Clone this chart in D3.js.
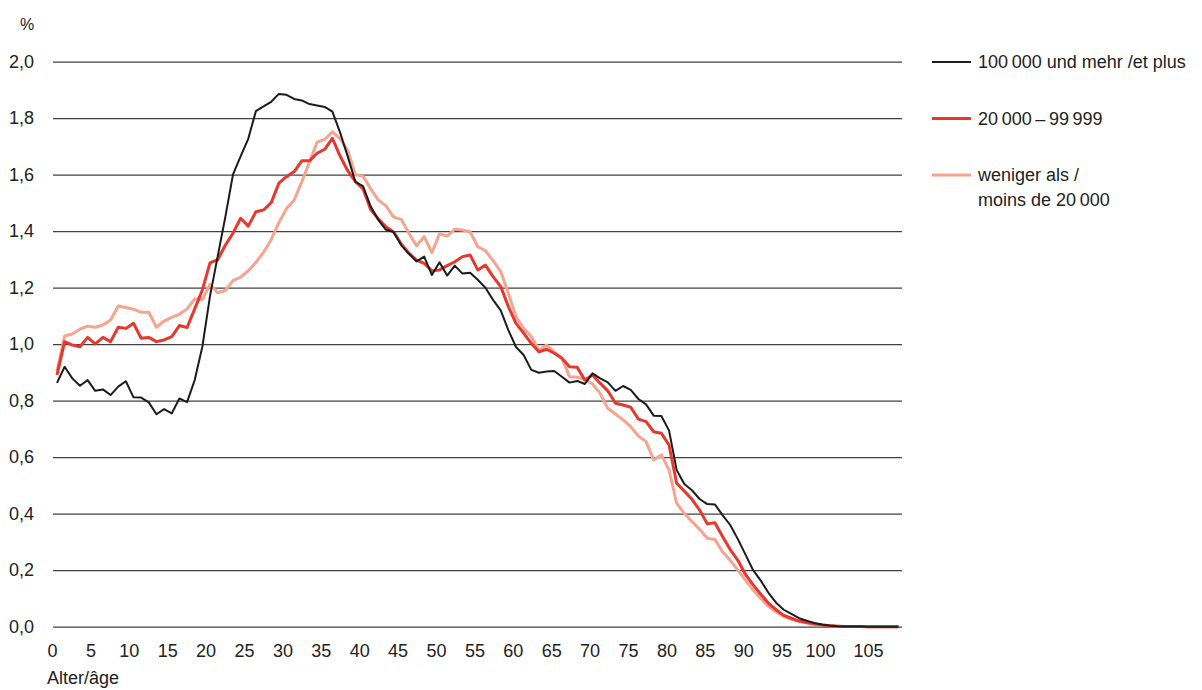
<!DOCTYPE html>
<html><head><meta charset="utf-8">
<script src="https://cdn.jsdelivr.net/npm/d3@7"></script>
<style>
body{margin:0;background:#fff}
text{font-family:"Liberation Sans",Arial,sans-serif;fill:#222}
</style>
</head><body><svg id="c" width="1202" height="690"></svg>
<script>
// ---- data ----
const ages = d3.range(0, 111);
const big = [
0.863,0.92,0.879,0.853,0.873,0.835,0.840,0.820,0.850,0.869,
0.812,0.811,0.794,0.752,0.770,0.755,0.808,0.795,0.873,0.991,
1.17,1.31,1.45,1.60,1.665,1.727,1.825,1.842,1.858,1.886,
1.883,1.868,1.863,1.850,1.845,1.840,1.823,1.75,1.665,1.575,
1.56,1.488,1.44,1.405,1.397,1.35,1.32,1.293,1.31,1.245,
1.29,1.243,1.278,1.25,1.253,1.228,1.2,1.157,1.12,1.05,
0.99,0.962,0.909,0.899,0.903,0.905,0.885,0.864,0.870,0.859,
0.897,0.879,0.865,0.835,0.852,0.838,0.806,0.787,0.747,0.746,
0.695,0.555,0.505,0.483,0.452,0.434,0.433,0.395,0.36,0.31,
0.255,0.20,0.163,0.12,0.085,0.06,0.045,0.03,0.021,0.013,
0.008,0.004,0.002,0.001,0.0005,0.0003,0.0002,0.0001,0.0001,0,0];
const mid = [
0.891,1.009,0.997,0.991,1.024,1.001,1.024,1.009,1.06,1.056,
1.074,1.021,1.024,1.009,1.015,1.027,1.066,1.059,1.125,1.192,
1.288,1.299,1.35,1.393,1.446,1.418,1.469,1.475,1.501,1.57,
1.593,1.611,1.649,1.649,1.676,1.69,1.729,1.666,1.614,1.576,
1.55,1.477,1.444,1.416,1.397,1.355,1.322,1.298,1.286,1.26,
1.263,1.278,1.292,1.31,1.316,1.263,1.28,1.239,1.204,1.133,
1.074,1.039,1.003,0.973,0.982,0.968,0.95,0.92,0.918,0.873,
0.891,0.862,0.835,0.791,0.785,0.777,0.735,0.726,0.69,0.685,
0.643,0.508,0.48,0.451,0.413,0.364,0.368,0.319,0.273,0.235,
0.185,0.148,0.115,0.083,0.06,0.04,0.03,0.02,0.015,0.01,
0.006,0.003,0.002,0.001,0.0005,0.0003,0.0002,0.0001,0.0001,0,0];
const small = [
0.905,1.029,1.036,1.053,1.064,1.06,1.068,1.086,1.135,1.13,
1.124,1.113,1.113,1.06,1.082,1.095,1.106,1.125,1.16,1.158,
1.212,1.182,1.19,1.225,1.237,1.26,1.29,1.325,1.37,1.43,
1.48,1.51,1.575,1.645,1.715,1.725,1.752,1.728,1.685,1.60,
1.595,1.55,1.51,1.49,1.45,1.442,1.393,1.348,1.381,1.324,
1.39,1.383,1.407,1.404,1.398,1.345,1.331,1.296,1.257,1.18,
1.097,1.056,1.027,0.979,0.997,0.973,0.95,0.885,0.883,0.876,
0.859,0.826,0.773,0.753,0.732,0.708,0.675,0.655,0.59,0.608,
0.555,0.437,0.401,0.372,0.345,0.313,0.309,0.265,0.235,0.20,
0.165,0.13,0.1,0.072,0.052,0.036,0.026,0.019,0.013,0.008,
0.005,0.003,0.002,0.001,0.0005,0.0003,0.0002,0.0001,0.0001,0,0];
const yTicks = [0,0.2,0.4,0.6,0.8,1.0,1.2,1.4,1.6,1.8,2.0];
const xTickLabels = [0,5,10,15,20,25,30,35,40,45,50,55,60,65,70,75,80,85,90,95,100,105];
const seriesNames = [
  ["100\u2009000 und mehr /et plus"],
  ["20\u2009000\u2009\u2013\u200999\u2009999"],
  ["weniger als /", "moins de 20\u2009000"]
];
const seriesData = [big, mid, small];
const colors = ["#1c1c1c", "#e8372d", "#f6a48f"];
const widths = [2, 3, 3];

// ---- layout ----
const svg = d3.select("#c");
svg.append("rect").attr("width",1202).attr("height",690).attr("fill","#fff");
const L = 53, R = 902;
const x = d3.scaleLinear().domain([0,110]).range([57, 898.5]);
const xLab = d3.scaleLinear().domain([0,100,105]).range([52,820,868]);
const y = d3.scaleLinear().domain([0,2]).range([626.7, 61.7]);
const fmt = v => d3.format(".1f")(v).replace(".", ",");

const yAxis = svg.append("g").attr("transform",`translate(${L},0)`)
  .call(d3.axisLeft(y).tickValues(yTicks).tickSize(-(R-L)).tickPadding(19).tickFormat(fmt));
yAxis.select(".domain").remove();
yAxis.selectAll(".tick line").attr("stroke","#404040").attr("stroke-width",1.2);
yAxis.selectAll(".tick text").attr("font-size",18).attr("fill","#222")
  .attr("font-family",'"Liberation Sans",Arial,sans-serif');

const xAxis = svg.append("g").attr("transform",`translate(0,${y(0)})`)
  .call(d3.axisBottom(xLab).tickValues(xTickLabels).tickSize(0).tickPadding(17.5).tickFormat(d3.format("d")));
xAxis.select(".domain").remove();
xAxis.selectAll(".tick text").attr("font-size",18).attr("fill","#222")
  .attr("font-family",'"Liberation Sans",Arial,sans-serif');

svg.append("text").attr("x",27).attr("y",30).attr("text-anchor","middle").attr("font-size",16).text("%");
svg.append("text").attr("x",47).attr("y",684).attr("font-size",18).text("Alter/âge");

const line = d3.line().x((d,i)=>x(ages[i])).y(d=>y(d));
[2,1,0].forEach(k=>{
  svg.append("path").datum(seriesData[k]).attr("d",line)
    .attr("fill","none").attr("stroke",colors[k]).attr("stroke-width",widths[k])
    .attr("stroke-linejoin","round");
});

// legend
const legY = [62, 118.5, 175];
seriesNames.forEach((lines,k)=>{
  const g = svg.append("g").attr("transform",`translate(0,${legY[k]})`);
  g.append("line").attr("x1",932).attr("x2",971).attr("y1",0).attr("y2",0)
    .attr("stroke",colors[k]).attr("stroke-width",widths[k]);
  lines.forEach((t,j)=>{
    g.append("text").attr("x",978).attr("y",j*25).attr("dy","0.35em")
      .attr("font-size",18).text(t);
  });
});
</script></body></html>
